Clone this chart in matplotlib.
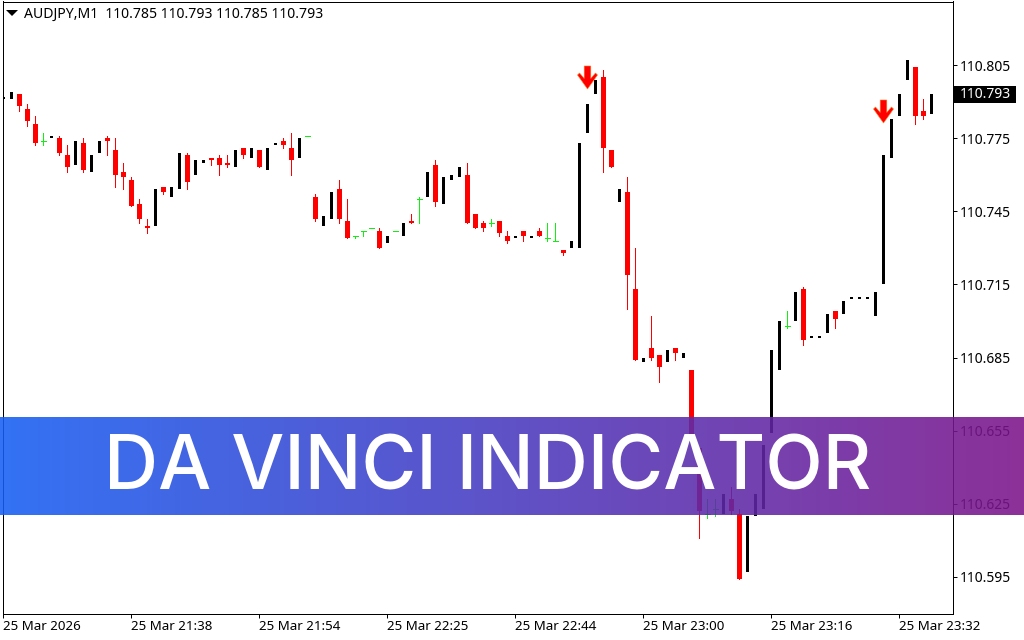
import numpy as np
import matplotlib
matplotlib.use('Agg')
import matplotlib.pyplot as plt
from matplotlib.path import Path
from matplotlib.patches import Rectangle

# prices of the M1 bars, 110.xxx
opens = [791,791,793,787,781,774,775,775,768,764,773,761,769,775,770,761,758,748,739,739,
         755,751,754,768,760,765,767,767,765,763,771,767,770,762,772,774,771,767,776,751,
         739,742,754,741,735,737,738,737,732,737,735,741,750,751,764,748,758,759,760,744,
         740,740,741,735,734,737,734,737,734,733,729,730,730,777,793,800,770,749,753,713,
         683,689,686,683,689,685,680,648,621,623,621,627,621,597,620,623,654,680,698,700,
         713,693,693,695,704,703,709,709,709,702,715,767,784,799,804,786,785]
highs = [792,794,793,789,784,777,776,776,772,774,775,768,774,776,775,765,759,750,742,754,
         755,755,769,769,766,766,767,768,768,770,771,771,770,771,773,775,777,775,776,752,
         743,753,758,750,735,737,738,738,735,737,740,744,751,761,766,759,760,763,765,744,
         741,742,741,737,735,737,735,738,740,740,729,733,773,789,799,803,770,754,759,730,
         685,702,686,688,689,687,680,648,627,627,629,632,623,620,629,649,688,700,704,712,
         714,694,694,703,704,708,710,710,710,712,768,783,793,807,804,791,793]
lows = [791,791,786,780,772,772,775,768,761,764,761,761,769,768,755,754,747,740,736,739,
        752,751,754,754,760,765,764,760,763,763,767,767,763,762,772,771,760,767,776,741,
        739,742,740,734,734,735,738,730,732,737,735,740,740,751,747,748,758,759,740,738,
        737,739,735,732,734,733,734,735,733,733,727,730,730,777,793,761,763,749,705,684,
        683,684,675,683,684,685,651,611,619,620,621,621,594,597,620,623,654,680,697,700,
        690,693,693,695,697,703,709,709,709,702,715,767,784,799,781,783,785]
closes = [792,794,788,782,773,774,776,769,763,774,762,768,774,774,760,759,747,742,738,754,
          753,755,769,757,766,766,766,764,764,770,768,771,763,771,773,772,766,775,776,742,
          743,753,742,734,735,737,738,730,735,737,740,740,750,761,749,759,760,763,740,738,
          738,740,736,733,735,735,735,735,734,733,728,733,773,789,799,771,763,754,719,684,
          685,685,681,688,687,687,651,622,621,623,629,622,594,620,629,649,688,700,698,712,
          692,694,694,703,701,708,710,710,710,712,768,783,793,807,784,784,793]

arrow_bars = [73, 110]
arrow_prices = [110.7999, 110.786]

price_ticks = [110.805, 110.775, 110.745, 110.715, 110.685, 110.655, 110.625, 110.595]
time_bars = [0, 16, 32, 48, 64, 80, 96, 112]
time_labels = ['25 Mar 2026', '25 Mar 21:38', '25 Mar 21:54', '25 Mar 22:25',
               '25 Mar 22:44', '25 Mar 23:00', '25 Mar 23:16', '25 Mar 23:32']
header = 'AUDJPY,M1  110.785 110.793 110.785 110.793'
last_price = 110.793
banner = 'DA VINCI INDICATOR'

opens = 110 + np.array(opens) / 1000
highs = 110 + np.array(highs) / 1000
lows = 110 + np.array(lows) / 1000
closes = 110 + np.array(closes) / 1000
x = np.arange(len(opens))

W, H = 1024, 640
plt.rcParams['font.family'] = ['Noto Sans', 'DejaVu Sans']
fig = plt.figure(figsize=(W / 100, H / 100), dpi=100, facecolor='white')
px = 0.72  # one pixel in points

ax = fig.add_axes([2.5 / W, (H - 613.5) / H, 950 / W, 612 / H])
ax.set_xlim(-0.1, 118.65)
ax.set_ylim(110.58002, 110.83105)

up = closes > opens
down = closes < opens
flat = closes == opens

ax.vlines(x[down], lows[down], highs[down], color='#ff0000', lw=px, antialiased=False)
ax.bar(x[down], (opens - closes)[down], bottom=closes[down], width=0.625, color='#ff0000',
       linewidth=0, antialiased=False)
ax.bar(x[up], (closes - opens)[up], bottom=opens[up], width=0.375, color='black',
       linewidth=0, antialiased=False)
ax.vlines(x[flat], lows[flat], highs[flat], color='#10f010', lw=px, antialiased=False, zorder=3)
ax.hlines(closes[flat], x[flat] - 0.31, x[flat] + 0.31, color='#10f010', lw=px, antialiased=False, zorder=3)

# down arrows
arrow = Path([(-3.3, 11.5), (3.3, 11.5), (3.3, -1), (8, 4.5), (10, 2.5), (0, -11.5),
              (-10, 2.5), (-8, 4.5), (-3.3, -1), (-3.3, 11.5)], closed=True)
ax.scatter(np.array(arrow_bars), arrow_prices, marker=arrow, s=274, color='#ff0000',
           edgecolor='#ff7a20', linewidth=0.4, zorder=4)

ax.set_yticks(price_ticks)
ax.set_yticklabels(['%.3f' % p for p in price_ticks])
ax.yaxis.tick_right()
ax.set_xticks(time_bars)
ax.set_xticklabels(time_labels, ha='left')
ax.tick_params(axis='y', length=3, width=px, labelsize=10, pad=2.5)
ax.tick_params(axis='x', length=3, width=px, labelsize=9.6, pad=2)
for s in ax.spines.values():
    s.set_linewidth(px)

# overlay in pixel coordinates
top = fig.add_axes([0, 0, 1, 1], facecolor='none')
top.set_xlim(0, W)
top.set_ylim(H, 0)
top.axis('off')

top.text(24, 14.5, header, fontsize=10.1, va='center', ha='left', color='black')
top.fill([6, 18, 12], [10, 10, 16], color='black', lw=0)

top.add_patch(Rectangle((954, 86), 62, 17, facecolor='black', edgecolor='none', zorder=2))
last_y = ax.transData.transform((0, last_price))[1]
top.text(959.5, H - last_y, '%.3f' % last_price, fontsize=10, color='white', va='center', ha='left', zorder=3)

# gradient banner
alpha = 0.88
left_c = np.array([50, 114, 245]) / 255
right_c = np.array([140, 48, 152]) / 255
t = np.linspace(0, 1, W)[None, :, None]
shown = left_c[None, None, :] * (1 - t) + right_c[None, None, :] * t
base = (shown - (1 - alpha)) / alpha
rgba = np.dstack([np.clip(base, 0, 1), np.full((1, W), alpha)])
top.imshow(rgba, extent=(0, W, 515, 417.5), aspect='auto', zorder=5, interpolation='bilinear')
top.set_xlim(0, W)
top.set_ylim(H, 0)
top.text(487.5, 490, banner, fontsize=54, color='white', fontweight='medium', family='Inter',
         ha='center', va='baseline', zorder=6)

fig.savefig('out.png', dpi=100)
